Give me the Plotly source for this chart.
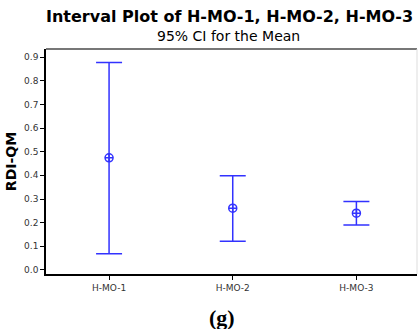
import plotly.graph_objects as go

# 95% confidence intervals for the mean of RDI-QM
groups = ["H-MO-1", "H-MO-2", "H-MO-3"]
means = [0.474, 0.261, 0.240]
upper = [0.877, 0.398, 0.289]
lower = [0.069, 0.121, 0.190]
y_ticks = [0.0, 0.1, 0.2, 0.3, 0.4, 0.5, 0.6, 0.7, 0.8, 0.9]

blue = "rgb(50,50,255)"

err_plus = [u - m for u, m in zip(upper, means)]
err_minus = [m - l for m, l in zip(means, lower)]

fig = go.Figure()
fig.add_trace(go.Scatter(
    x=groups, y=means, mode="markers",
    marker=dict(symbol="circle-cross-open", size=8, color=blue,
                line=dict(width=1.5, color=blue)),
    error_y=dict(type="data", symmetric=False, array=err_plus,
                 arrayminus=err_minus, color=blue, thickness=1.5, width=13),
    showlegend=False,
))

tick_font = dict(family="DejaVu Sans", size=9, color="#333")

fig.update_layout(
    width=418, height=329,
    margin=dict(l=46, r=1, t=49, b=55),
    paper_bgcolor="white", plot_bgcolor="white",
    xaxis=dict(range=[-0.51, 2.49], showline=True, linecolor="black", linewidth=1.5,
               ticks="outside", ticklen=4, tickcolor="black", tickfont=tick_font,
               showgrid=False, zeroline=False, fixedrange=True),
    yaxis=dict(range=[-0.017, 0.934], tickvals=y_ticks, tickformat=".1f",
               showline=True, linecolor="black", linewidth=1.5,
               ticks="outside", ticklen=4, tickcolor="black", tickfont=tick_font,
               showgrid=False, zeroline=False, fixedrange=True,
               title=dict(text="<b>RDI-QM</b>", standoff=4,
                          font=dict(family="DejaVu Sans", size=14, color="black"))),
    shapes=[
        dict(type="line", xref="paper", yref="paper", x0=0, x1=1, y0=1, y1=1,
             line=dict(color="#777", width=2)),
        dict(type="line", xref="paper", yref="paper", x0=1, x1=1, y0=0, y1=1,
             line=dict(color="#ddd", width=1)),
    ],
    annotations=[
        dict(text="<b>Interval Plot of H-MO-1, H-MO-2, H-MO-3</b>", xref="paper", yref="paper",
             x=1, y=1, xshift=-2, yshift=21, xanchor="right", yanchor="bottom", showarrow=False,
             font=dict(family="DejaVu Sans", size=16, color="black")),
        dict(text="95% CI for the Mean", xref="paper", yref="paper",
             x=0.492, y=1, yshift=3, xanchor="center", yanchor="bottom", showarrow=False,
             font=dict(family="DejaVu Sans", size=14, color="black")),
        dict(text="<b>(g)</b>", xref="paper", yref="paper",
             x=0.475, y=0, yshift=-29, xanchor="center", yanchor="top", showarrow=False,
             font=dict(family="Liberation Serif", size=22, color="black")),
    ],
)

fig.write_html("out.html")
